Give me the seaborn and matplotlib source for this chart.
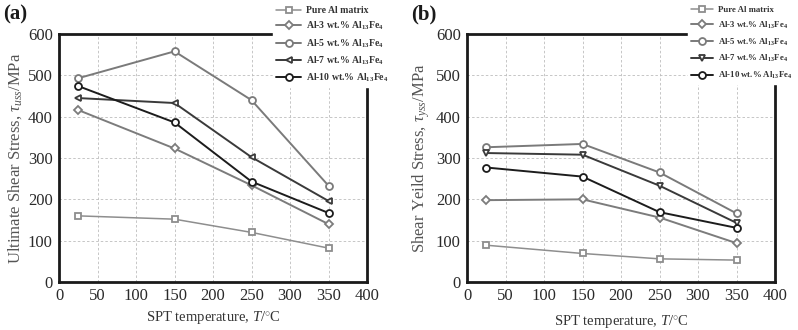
import numpy as np
import pandas as pd
import matplotlib
matplotlib.use('Agg')
from matplotlib import pyplot as plt
from matplotlib.ticker import MultipleLocator
import seaborn as sns

sns.set_style('white')
plt.rcParams['font.family'] = ['Liberation Serif', 'DejaVu Serif']
plt.rcParams['mathtext.fontset'] = 'custom'
plt.rcParams['mathtext.rm'] = 'Liberation Serif'
plt.rcParams['mathtext.it'] = 'Liberation Serif:italic'
plt.rcParams['mathtext.bf'] = 'Liberation Serif:bold'

# data
temps = [25, 150, 250, 350]
alloys = ['Pure Al matrix',
          r'Al-3 wt.% Al$_{\mathbf{13}}$Fe$_{\mathbf{4}}$',
          r'Al-5 wt.% Al$_{\mathbf{13}}$Fe$_{\mathbf{4}}$',
          r'Al-7 wt.% Al$_{\mathbf{13}}$Fe$_{\mathbf{4}}$',
          r'Al-10 wt.% Al$_{\mathbf{13}}$Fe$_{\mathbf{4}}$']

uss_pure = [160, 152, 120, 82]
uss_al3 = [416, 323, 234, 140]
uss_al5 = [493, 558, 440, 233]
uss_al7 = [445, 433, 302, 196]
uss_al10 = [474, 386, 243, 167]

yss_pure = [89, 69, 56, 53]
yss_al3 = [198, 200, 156, 94]
yss_al5 = [326, 334, 265, 166]
yss_al7 = [312, 308, 233, 143]
yss_al10 = [277, 255, 169, 131]

colors = ['#8e8e8e', '#7c7c7c', '#7a7a7a', '#3a3a3a', '#1c1c1c']
markers_a = ['s', 'D', 'o', '<', 'o']
markers_b = ['s', 'D', 'o', 'v', 'o']

fig = plt.figure(figsize=(7.98, 3.30), dpi=100)
W, H = 798, 330


def panel(left, series, markers, ylabel, tag, leg_x, leg_size, leg_sp, xlab_top):
    ax = fig.add_axes([left / W, (H - 282) / H, 308 / W, 248 / H])
    for name, vals, c, m in zip(alloys, series, colors, markers):
        df = pd.DataFrame({'T': temps, 'v': vals})
        ms = 4.5 if m in ('s', 'D') else 5
        lw = 1.1 if name.startswith('Pure') else 1.4
        sns.lineplot(data=df, x='T', y='v', ax=ax, color=c, marker=m,
                     markersize=ms, markerfacecolor='white', markeredgecolor=c,
                     markeredgewidth=1.3, linewidth=lw, label=name)
    ax.set_xlim(0, 400)
    ax.set_ylim(0, 600)
    ax.xaxis.set_major_locator(MultipleLocator(50))
    ax.xaxis.set_minor_locator(MultipleLocator(25))
    ax.yaxis.set_major_locator(MultipleLocator(100))
    ax.yaxis.set_minor_locator(MultipleLocator(50))
    ax.grid(True, which='major', linestyle=(0, (3, 2.5)), color='#bdbdbd', linewidth=0.6)
    ax.tick_params(which='major', direction='out', length=3.5, width=1.2, labelsize=12,
                   colors='#2a2a2a', pad=1)
    ax.tick_params(which='minor', direction='out', length=2, width=1, colors='#2a2a2a')
    for s in ax.spines.values():
        s.set_linewidth(2)
        s.set_color('#1a1a1a')
    ax.set_ylabel(ylabel, fontsize=12, color='#555555', labelpad=3)
    ax.set_xlabel(r'SPT temperature, $\mathit{T}$/$^{\circ}$C', fontsize=10.5,
                  color='#333333')
    ax.xaxis.set_label_coords(0.5, (282 - xlab_top) / 248)
    leg = ax.legend(loc='upper left', bbox_to_anchor=(leg_x / W, 1 - 3 / H),
                    bbox_transform=fig.transFigure, frameon=True, framealpha=1,
                    edgecolor='white', facecolor='white', fancybox=False,
                    prop={'family': 'Liberation Serif', 'weight': 'bold', 'size': leg_size},
                    handlelength=2.6, handletextpad=0.5, labelspacing=leg_sp,
                    borderpad=0.3, borderaxespad=0)
    for t in leg.get_texts():
        t.set_color('#333333')
    leg.set_zorder(5)
    fig.text((left - 56) / W, 1 - 14 / H, tag, fontsize=15, fontweight='bold',
             va='center', ha='left', color='#1a1a1a')
    return ax


panel(59, [uss_pure, uss_al3, uss_al5, uss_al7, uss_al10], markers_a,
      r'Ultimate Shear Stress, $\tau_{uss}$/MPa', '(a)', 273, 7, 0.5, 309)
panel(467, [yss_pure, yss_al3, yss_al5, yss_al7, yss_al10], markers_b,
      r'Shear Yeild Stress, $\tau_{yss}$/MPa', '(b)', 688, 6.3, 0.65, 313)

plt.savefig('out.png', dpi=100)
